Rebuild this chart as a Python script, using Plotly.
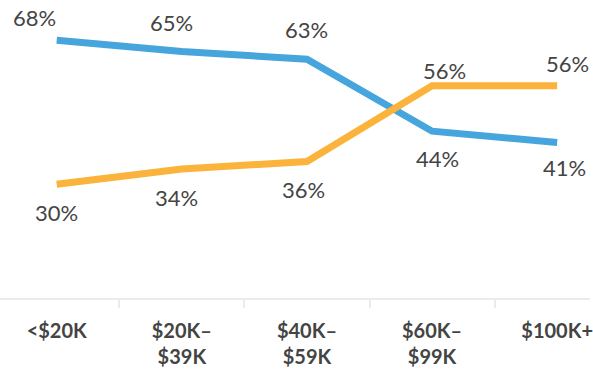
import plotly.graph_objects as go

categories = ["<$20K", "$20K–<br>$39K", "$40K–<br>$59K", "$60K–<br>$99K", "$100K+"]
blue_values = [68, 65, 63, 44, 41]
orange_values = [30, 34, 36, 56, 56]

BLUE = "#46a5dc"
ORANGE = "#fbb33b"
TEXT = "#444444"
FONT = "Lato"

# label offsets (pixels, x right / y up) relative to each point
blue_offsets = [(-22, 23), (-10, 29), (0, 30), (5, -27), (7, -25)]
orange_offsets = [(0, -28), (-5, -28), (-3, -28), (12, 15), (10, 22)]

x = list(range(len(categories)))

fig = go.Figure()
for vals, color in [(blue_values, BLUE), (orange_values, ORANGE)]:
    fig.add_trace(go.Scatter(
        x=x, y=vals, mode="lines",
        line=dict(color=color, width=7),
        hoverinfo="skip", showlegend=False,
    ))

annotations = []
for vals, offs in [(blue_values, blue_offsets), (orange_values, orange_offsets)]:
    for i, (v, (dx, dy)) in enumerate(zip(vals, offs)):
        annotations.append(dict(
            x=i, y=v, text=f"{v}%", showarrow=False,
            xanchor="center", yanchor="middle",
            xshift=dx, yshift=dy,
            font=dict(family=FONT, size=22, color=TEXT),
        ))

fig.update_layout(
    width=593, height=375,
    margin=dict(l=0, r=0, t=0, b=77),
    paper_bgcolor="white", plot_bgcolor="white",
    annotations=annotations,
    xaxis=dict(
        range=[-0.4533, 4.2624],
        tickmode="array", tickvals=x, ticktext=categories,
        tickfont=dict(family=FONT, size=20, color=TEXT, weight="bold"),
        ticklabeloverflow="allow",
        showgrid=False, zeroline=False,
        showline=True, linecolor="#ebebeb", linewidth=2,
        ticks="", ticklabelstandoff=14,
        minor=dict(tickmode="array", tickvals=[0.5, 1.5, 2.5, 3.5],
                   ticks="outside", ticklen=8, tickcolor="#ebebeb",
                   tickwidth=2, showgrid=False),
        fixedrange=True,
    ),
    yaxis=dict(range=[0, 78.6], visible=False, fixedrange=True),
)

fig.write_html("out.html", config={"displayModeBar": False})
